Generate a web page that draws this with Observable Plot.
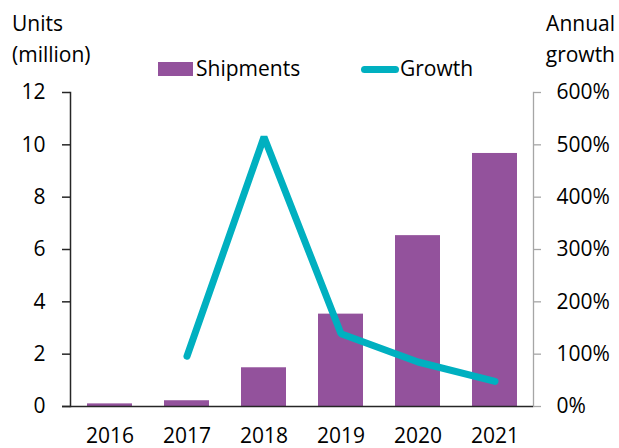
<!DOCTYPE html>
<html>
<head>
<meta charset="utf-8">
<script src="https://cdn.jsdelivr.net/npm/d3@7"></script>
<script src="https://cdn.jsdelivr.net/npm/@observablehq/plot@0.6"></script>
<style>
  html, body { margin: 0; padding: 0; background: #fff; }
  #wrap { position: relative; width: 619px; height: 448px; font-family: "Open Sans", sans-serif; color: #000; }
  #wrap svg { position: absolute; left: 0; top: 0; }
  .lbl { position: absolute; font-size: 21px; line-height: 31px; white-space: nowrap; }
  .sw { position: absolute; }
</style>
</head>
<body>
<div id="wrap">
  <div class="lbl" style="left:12px; top:8px;">Units<br>(million)</div>
  <div class="lbl" style="right:4px; top:8px; text-align:right;">Annual<br>growth</div>
  <div class="sw" style="left:158px; top:62px; width:35px; height:14px; background:#93529C;"></div>
  <div class="lbl" style="left:196px; top:53px;">Shipments</div>
  <div class="sw" style="left:361px; top:66px; width:38px; height:7px; border-radius:4px; background:#00B0C0;"></div>
  <div class="lbl" style="left:400px; top:53px;">Growth</div>
</div>
<script>
const years = ["2016", "2017", "2018", "2019", "2020", "2021"];
const shipments = [0.1, 0.22, 1.48, 3.53, 6.53, 9.67];
const growth = [null, 96, 515, 139, 85, 48];
const leftTicks = [0, 2, 4, 6, 8, 10, 12];
const rightTicks = [0, 100, 200, 300, 400, 500, 600];

const barData = years.map((y, i) => ({year: y, value: shipments[i]}));
const lineData = years.map((y, i) => ({year: y, growth: growth[i]})).filter(d => d.growth != null);
const ratio = 600 / 12;

const chart = Plot.plot({
  width: 619,
  height: 448,
  marginLeft: 70,
  marginRight: 86,
  marginTop: 92,
  marginBottom: 42,
  style: {fontFamily: "Open Sans, sans-serif", fontSize: "21px", color: "#000", background: "transparent"},
  x: {domain: years, paddingInner: 0.42, paddingOuter: 0.21, axis: null, label: null},
  y: {domain: [0, 12], axis: null, label: null},
  marks: [
    Plot.barY(barData, {x: "year", y: "value", fill: "#93529C"}),
    Plot.frame({anchor: "right", stroke: "#a6a6a6", strokeWidth: 1.3}),
    Plot.axisY(rightTicks.map(t => t / ratio), {
      anchor: "right", label: null, tickSize: 7, tickPadding: 16, stroke: "#a6a6a6", strokeWidth: 1.3,
      tickFormat: d => Math.round(d * ratio) + "%", fill: "#000", fontSize: 21
    }),
    Plot.frame({anchor: "left", stroke: "#262626", strokeWidth: 1.5}),
    Plot.axisY(leftTicks, {
      anchor: "left", label: null, tickSize: 8, tickPadding: 17, stroke: "#262626", strokeWidth: 1.5,
      tickFormat: d => String(d), fill: "#000", fontSize: 21
    }),
    Plot.ruleY([0], {stroke: "#262626", strokeWidth: 1.5, insetLeft: -8}),
    Plot.axisX({anchor: "bottom", label: null, tickSize: 0, tickPadding: 22, fill: "#000", fontSize: 21}),
    Plot.line(lineData, {x: "year", y: d => d.growth / ratio, stroke: "#00B0C0", strokeWidth: 7, strokeLinecap: "round", strokeLinejoin: "miter"})
  ]
});
document.getElementById("wrap").prepend(chart);
</script>
</body>
</html>
